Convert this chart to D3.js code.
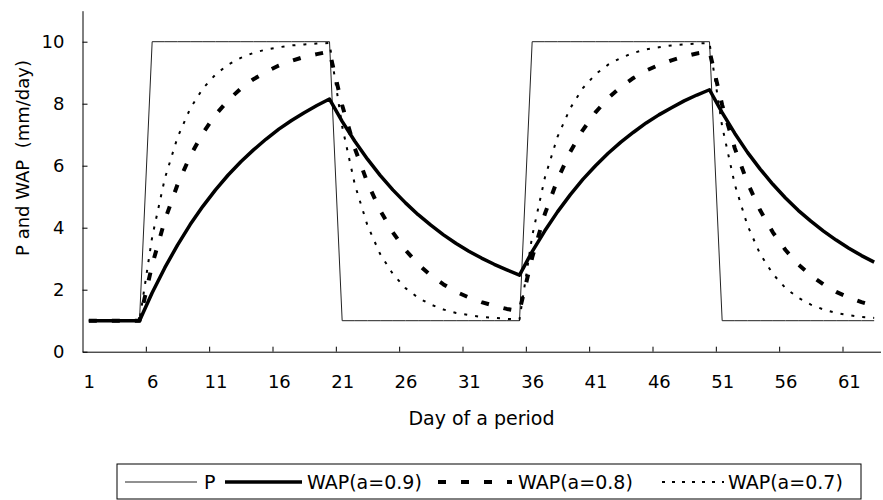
<!DOCTYPE html>
<html>
<head>
<meta charset="utf-8">
<script src="https://cdn.jsdelivr.net/npm/d3@7"></script>
<style>
  html, body { margin: 0; padding: 0; background: #fff; }
  svg { display: block; }
  text { font-family: "DejaVu Sans", sans-serif; fill: #000; }
</style>
</head>
<body>
<svg id="chart" width="883" height="500"></svg>
<script>
// ---- data ----
const days = [1,2,3,4,5,6,7,8,9,10,11,12,13,14,15,16,17,18,19,20,21,22,23,24,25,26,27,28,29,30,31,32,33,34,35,36,37,38,39,40,41,42,43,44,45,46,47,48,49,50,51,52,53,54,55,56,57,58,59,60,61,62,63];
const xTickLabels = [1,6,11,16,21,26,31,36,41,46,51,56,61];
const yTicks = [0,2,4,6,8,10];

const P = [1,1,1,1,1,
  10,10,10,10,10,10,10,10,10,10,10,10,10,10,10,
  1,1,1,1,1,1,1,1,1,1,1,1,1,1,1,
  10,10,10,10,10,10,10,10,10,10,10,10,10,10,10,
  1,1,1,1,1,1,1,1,1,1,1,1,1];
const wap09 = [1,1,1,1,1,
  1.9,2.71,3.44,4.1,4.69,5.22,5.7,6.13,6.51,6.86,7.18,7.46,7.71,7.94,8.15,
  7.43,6.79,6.21,5.69,5.22,4.8,4.42,4.08,3.77,3.49,3.24,3.02,2.82,2.64,2.47,
  3.23,3.9,4.51,5.06,5.56,6,6.4,6.76,7.08,7.38,7.64,7.87,8.09,8.28,8.45,
  7.71,7.04,6.43,5.89,5.4,4.96,4.56,4.21,3.89,3.6,3.34,3.1,2.89];
const wap08 = [1,1,1,1,1,
  2.8,4.24,5.39,6.31,7.05,7.64,8.11,8.49,8.79,9.03,9.23,9.38,9.51,9.6,9.68,
  7.95,6.56,5.45,4.56,3.85,3.28,2.82,2.46,2.17,1.93,1.75,1.6,1.48,1.38,1.31,
  3.04,4.44,5.55,6.44,7.15,7.72,8.18,8.54,8.83,9.07,9.25,9.4,9.52,9.62,9.69,
  7.96,6.56,5.45,4.56,3.85,3.28,2.82,2.46,2.17,1.93,1.75,1.6,1.48];
const wap07 = [1,1,1,1,1,
  3.7,5.59,6.91,7.84,8.49,8.94,9.26,9.48,9.64,9.75,9.82,9.88,9.91,9.94,9.96,
  7.27,5.39,4.07,3.15,2.51,2.05,1.74,1.52,1.36,1.25,1.18,1.12,1.09,1.06,1.04,
  3.73,5.61,6.93,7.85,8.5,8.95,9.26,9.48,9.64,9.75,9.82,9.88,9.91,9.94,9.96,
  7.27,5.39,4.07,3.15,2.51,2.05,1.74,1.52,1.36,1.25,1.18,1.12,1.09];
const seriesNames = ["P", "WAP(a=0.9)", "WAP(a=0.8)", "WAP(a=0.7)"];

// ---- layout ----
const svg = d3.select("#chart");
const plotLeft = 82.5, plotRight = 880.5, plotTop = 10.7, plotBottom = 351.7;

const x = d3.scaleLinear().domain([0.5, 63.5]).range([plotLeft, plotRight]);
const y = d3.scaleLinear().domain([0, 11]).range([plotBottom, plotTop]);

const styles = [
  { data: P,     width: 1,   dash: null,  color: "#222" },
  { data: wap09, width: 3.5, dash: null,  color: "#000" },
  { data: wap08, width: 4,   dash: "8,15", color: "#000" },
  { data: wap07, width: 2,   dash: "3,8", color: "#000" }
];

// Y axis
const yAxis = svg.append("g")
  .attr("transform", `translate(${plotLeft},0)`)
  .call(d3.axisLeft(y).tickValues(yTicks).tickSizeInner(-5).tickSizeOuter(0).tickPadding(18));
yAxis.select(".domain").attr("stroke", "#000");
yAxis.selectAll("text").attr("font-size", 18).attr("font-family", "DejaVu Sans");

// X axis: marks between categories
const boundaryTicks = xTickLabels.slice(1).map(d => d - 0.5);
const xAxisMarks = svg.append("g")
  .attr("transform", `translate(0,${plotBottom})`)
  .call(d3.axisBottom(x).tickValues(boundaryTicks).tickSizeInner(-5).tickSizeOuter(0).tickFormat(""));
xAxisMarks.select(".domain").attr("stroke", "#000");

// X axis labels at category centres
const xAxisLabels = svg.append("g")
  .attr("transform", `translate(0,${plotBottom})`)
  .call(d3.axisBottom(x).tickValues(xTickLabels).tickSize(0).tickPadding(24).tickFormat(d3.format("d")));
xAxisLabels.select(".domain").remove();
xAxisLabels.selectAll("text").attr("font-size", 18).attr("font-family", "DejaVu Sans");

// Axis titles
svg.append("text")
  .attr("x", (plotLeft + plotRight) / 2).attr("y", 418).attr("dy", "0.35em")
  .attr("text-anchor", "middle").attr("font-size", 19)
  .text("Day of a period");

svg.append("text")
  .attr("transform", "translate(23,158) rotate(-90)")
  .attr("dy", "0.35em")
  .attr("text-anchor", "middle").attr("font-size", 18)
  .style("white-space", "pre")
  .text("P and WAP  (mm/day)");

// Lines
const line = d3.line().x((d, i) => x(days[i])).y(d => y(d));
styles.forEach(s => {
  svg.append("path")
    .datum(s.data)
    .attr("d", line)
    .attr("fill", "none")
    .attr("stroke", s.color)
    .attr("stroke-width", s.width)
    .attr("stroke-linejoin", "round")
    .attr("stroke-dasharray", s.dash);
});

// Legend
const legend = svg.append("g");
legend.append("rect")
  .attr("x", 117).attr("y", 464).attr("width", 744).attr("height", 35)
  .attr("fill", "#fff").attr("stroke", "#000").attr("stroke-width", 1);
const legendItems = [
  { x1: 125, x2: 197, tx: 204 },
  { x1: 225, x2: 302, tx: 307 },
  { x1: 438, x2: 512, tx: 518 },
  { x1: 662, x2: 724, tx: 728 }
];
const ly = 482;
legendItems.forEach((it, i) => {
  const s = styles[i];
  legend.append("line")
    .attr("x1", it.x1).attr("x2", it.x2).attr("y1", ly).attr("y2", ly)
    .attr("stroke", s.color).attr("stroke-width", s.width)
    .attr("stroke-dasharray", i === 3 ? "3,7" : s.dash);
  legend.append("text")
    .attr("x", it.tx).attr("y", ly).attr("dy", "0.35em")
    .attr("font-size", 19)
    .text(seriesNames[i]);
});
</script>
</body>
</html>
